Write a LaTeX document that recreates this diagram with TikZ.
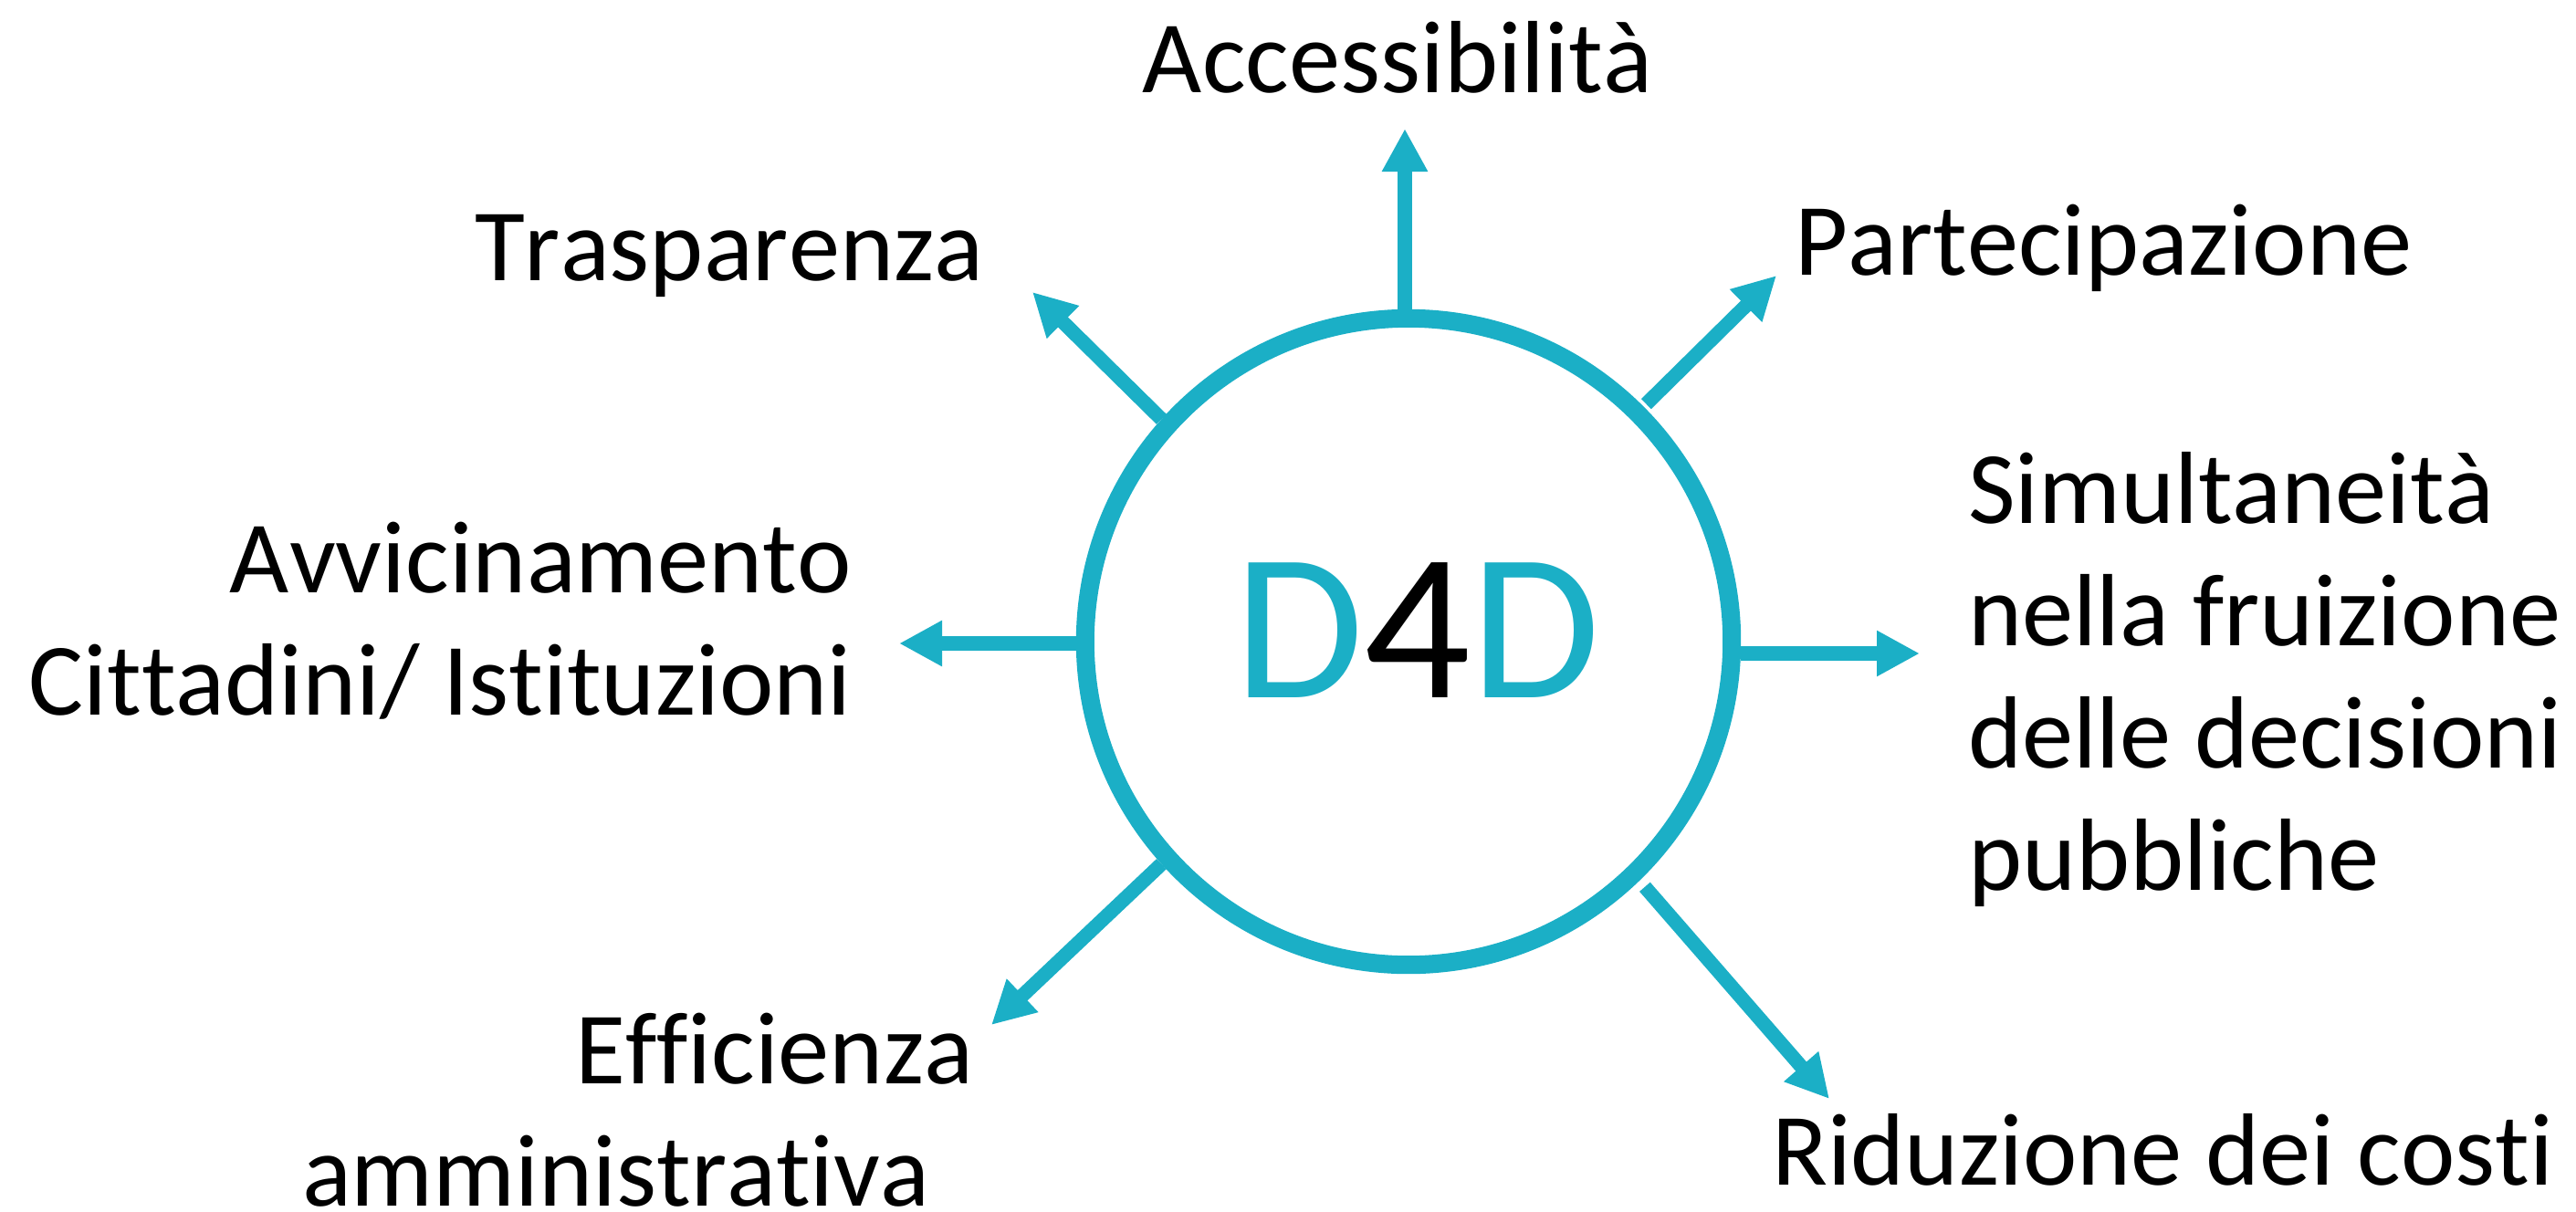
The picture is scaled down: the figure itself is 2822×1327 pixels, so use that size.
\documentclass[tikz,border=0pt]{standalone}
\usepackage{fontspec}
\setmainfont{Carlito}[Ligatures=NoCommon, Kerning=Off]
\usetikzlibrary{arrows.meta}
\definecolor{tealD}{RGB}{27,175,198}
\begin{document}
\begin{tikzpicture}[x=0.01cm,y=-0.01cm,
  lbl/.style={font=\fontsize{32}{38.1}\selectfont, inner sep=0pt, outer sep=0pt},
  arr/.style={draw=tealD, line width=0.155cm, -{Triangle[length=0.47cm,width=0.47cm]}}]
\useasboundingbox[fill=white] (0,0) rectangle (2822,1327);
% central circle
\node[circle, draw=tealD, line width=0.2cm, minimum size=7.08cm, inner sep=0pt] (c) at (1543,703) {};
\node[font=\fontsize{65.5}{70}\selectfont, inner sep=0pt, anchor=base west] (d4d) at (1352,764)
  {\textcolor{tealD}{D}4\textcolor{tealD}{D}};
% labels (multi-line nodes: base anchor = last line)
\node[lbl, anchor=base] (acc) at (1531,101) {Accessibilità};
\node[lbl, anchor=base west] (tra) at (520,307) {Trasparenza};
\node[lbl, anchor=base west] (par) at (1966,301) {Partecipazione};
\node[lbl, anchor=base east, align=right] (avv) at (933,783) {Avvicinamento\\Cittadini/ Istituzioni};
\node[lbl, anchor=base west, align=left] (sim) at (2156,975) {Simultaneità\\nella fruizione\\delle decisioni\\pubbliche};
\node[lbl, anchor=base west, align=left] (eff) at (331,1321) {\hspace*{2.99cm}Efficienza\\amministrativa};
\node[lbl, anchor=base west] (rid) at (1941,1298) {Riduzione dei costi};
% arrow tips
\coordinate (tA) at (1539,141);
\coordinate (tT) at (1131,320);
\coordinate (tP) at (1946,302);
\coordinate (tV) at (985,705);
\coordinate (tS) at (2103,716);
\coordinate (tE) at (1086,1123);
\coordinate (tR) at (2004,1204);
% arrows
\draw[arr] (tA |- c.north) -- (tA);
\draw[arr] (c.138) -- (tT);
\draw[arr, shorten <=0.04cm] (c.45) -- (tP);
\draw[arr] (c.west |- tV) -- (tV);
\draw[arr] (c.east |- tS) -- (tS);
\draw[arr] (c.222) -- (tE);
\draw[arr, shorten <=0.09cm] (c.314) -- (tR);
\end{tikzpicture}
\end{document}
